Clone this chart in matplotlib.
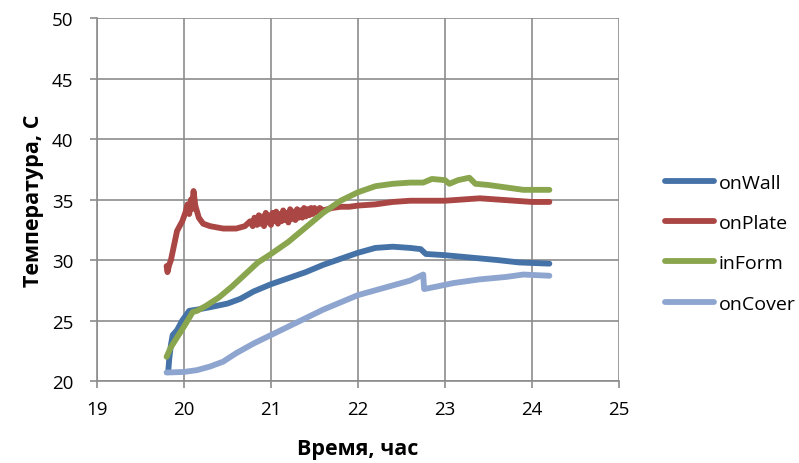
import matplotlib.pyplot as plt

plt.rcParams['font.family'] = ['Open Sans', 'DejaVu Sans']

# onWall
wall_x = [19.82, 19.83, 19.85, 19.87, 19.92, 19.98, 20.06, 20.15, 20.3, 20.5, 20.65, 20.8, 21.0,
          21.2, 21.4, 21.6, 21.8, 22.0, 22.2, 22.4, 22.6, 22.72, 22.78, 23.0, 23.3, 23.6, 23.85, 24.2]
wall_y = [20.9, 21.8, 23.0, 23.8, 24.2, 25.0, 25.8, 25.9, 26.1, 26.4, 26.8, 27.4, 28.0,
          28.5, 29.0, 29.6, 30.1, 30.6, 31.0, 31.1, 31.0, 30.9, 30.5, 30.4, 30.2, 30.0, 29.8, 29.7]

# onPlate
plate_x = [19.80, 19.81, 19.83, 19.85, 19.92, 19.98, 20.02, 20.04, 20.06, 20.08, 20.09, 20.11,
           20.13, 20.17, 20.22, 20.3, 20.45, 20.6, 20.7, 20.76, 20.79, 20.81, 20.84, 20.86,
           20.88, 20.90, 20.92, 20.94, 20.96, 20.98, 21.00, 21.02, 21.04, 21.06, 21.08, 21.10,
           21.12, 21.14, 21.16, 21.18, 21.20, 21.22, 21.24, 21.26, 21.28, 21.30, 21.32, 21.34,
           21.36, 21.38, 21.40, 21.42, 21.44, 21.46, 21.48, 21.50, 21.53, 21.56, 21.6, 21.7,
           21.8, 21.9, 22.0, 22.2, 22.4, 22.6, 22.8, 23.0, 23.2, 23.4, 23.6, 23.8, 24.0, 24.2]
plate_y = [29.5, 29.0, 29.6, 30.0, 32.4, 33.2, 34.0, 34.6, 33.8, 35.0, 34.2, 35.7,
           34.5, 33.5, 33.0, 32.8, 32.6, 32.6, 32.8, 33.2, 32.8, 33.5, 32.9, 33.7,
           33.0, 33.6, 32.8, 33.9, 33.1, 33.7, 32.9, 33.9, 33.2, 34.0, 33.0, 33.8,
           33.2, 34.1, 33.3, 33.9, 33.1, 34.2, 33.4, 34.0, 33.3, 34.2, 33.5, 34.1,
           33.5, 34.3, 33.6, 34.2, 33.7, 34.3, 33.8, 34.3, 33.9, 34.3, 34.1, 34.3,
           34.4, 34.4, 34.5, 34.6, 34.8, 34.9, 34.9, 34.9, 35.0, 35.1, 35.0, 34.9, 34.8, 34.8]

# inForm
form_x = [19.80, 19.85, 19.92, 20.0, 20.1, 20.15, 20.25, 20.4, 20.55, 20.7, 20.85, 21.0, 21.2,
          21.4, 21.6, 21.8, 22.0, 22.2, 22.4, 22.6, 22.75, 22.85, 23.0, 23.05, 23.15, 23.28,
          23.35, 23.5, 23.7, 23.9, 24.2]
form_y = [22.0, 22.8, 23.6, 24.5, 25.7, 25.8, 26.2, 26.9, 27.8, 28.8, 29.8, 30.5, 31.5,
          32.7, 33.9, 34.9, 35.6, 36.1, 36.3, 36.4, 36.4, 36.7, 36.6, 36.3, 36.6, 36.8,
          36.3, 36.2, 36.0, 35.8, 35.8]

# onCover
cover_x = [19.80, 20.0, 20.15, 20.3, 20.45, 20.6, 20.8, 21.0, 21.2, 21.4, 21.6, 21.8, 22.0,
           22.2, 22.4, 22.6, 22.75, 22.76, 22.9, 23.1, 23.4, 23.7, 23.9, 24.2]
cover_y = [20.7, 20.75, 20.9, 21.2, 21.6, 22.3, 23.1, 23.8, 24.5, 25.2, 25.9, 26.5, 27.1,
           27.5, 27.9, 28.3, 28.8, 27.6, 27.8, 28.1, 28.4, 28.6, 28.8, 28.7]

fig = plt.figure(figsize=(7.99, 4.64), dpi=100)
ax = fig.add_axes([0.1214, 0.1767, 0.6533, 0.7823])

lw = 4.2
ax.plot(wall_x, wall_y, color='#4572A7', lw=lw, label='onWall', solid_capstyle='round')
ax.plot(plate_x, plate_y, color='#AA4643', lw=lw, label='onPlate', solid_capstyle='round')
ax.plot(form_x, form_y, color='#89A54E', lw=lw, label='inForm', solid_capstyle='round')
ax.plot(cover_x, cover_y, color='#8EA5CF', lw=lw, label='onCover', solid_capstyle='round')

ax.set_xlim(19, 25)
ax.set_ylim(20, 50)
ax.set_xticks(range(19, 26))
ax.set_yticks(range(20, 51, 5))
ax.grid(True, color='#8C8C8C', lw=1.2)
ax.set_axisbelow(True)
for s in ax.spines.values():
    s.set_color('#8C8C8C')
    s.set_linewidth(1.2)
ax.spines['top'].set_visible(False)
ax.spines['right'].set_visible(False)
ax.tick_params(length=5, width=1.2, color='#8C8C8C', labelsize=13.5)
ax.tick_params(axis='x', pad=9)
ax.tick_params(axis='y', pad=12)

ax.set_xlabel('Время, час', fontsize=15.5, fontweight='bold', labelpad=14)
ax.set_ylabel('Температура, С', fontsize=15.5, fontweight='bold', labelpad=6)

ax.legend(loc='center left', bbox_to_anchor=(1.088, 0.38), frameon=False, fontsize=14,
          handlelength=2.5, labelspacing=1.15, handletextpad=0.25,
          borderpad=0, borderaxespad=0)

fig.savefig('out.png', dpi=100)
